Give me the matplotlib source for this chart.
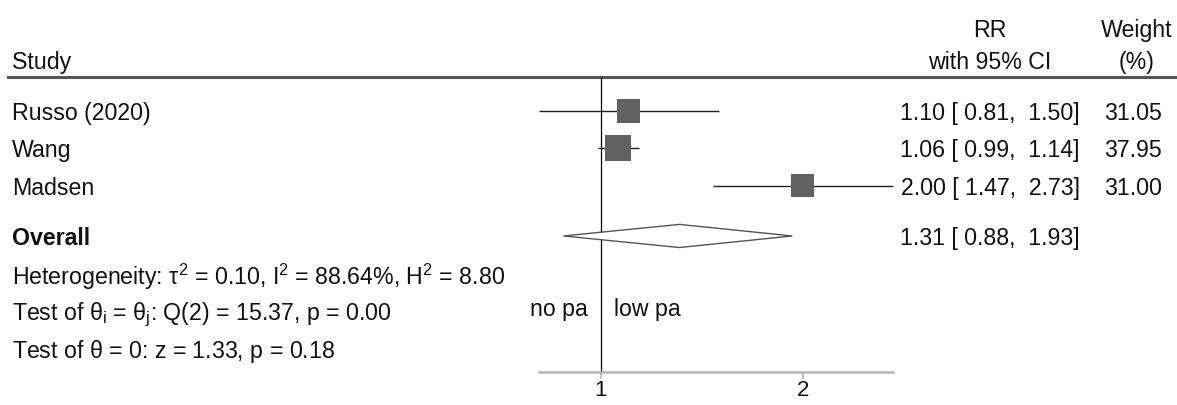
import numpy as np
import matplotlib
matplotlib.use('Agg')
import matplotlib.pyplot as plt
from matplotlib import transforms
from matplotlib.patches import Polygon
from matplotlib.ticker import FixedLocator, NullLocator, FixedFormatter

# Data
# -----------------
studies = ['Russo (2020)', 'Wang', 'Madsen']
rr = [1.10, 1.06, 2.00]
ci_low = [0.81, 0.99, 1.47]
ci_high = [1.50, 1.14, 2.73]
weights = [31.05, 37.95, 31.00]

overall_rr = 1.31
overall_low = 0.88
overall_high = 1.93

stats_lines = [
    r'Heterogeneity: $\mathregular{\tau^2}$ = 0.10, $\mathregular{I^2}$ = 88.64%, $\mathregular{H^2}$ = 8.80',
    r'Test of $\mathregular{\theta_i}$ = $\mathregular{\theta_j}$: Q(2) = 15.37, p = 0.00',
    r'Test of $\mathregular{\theta}$ = 0: z = 1.33, p = 0.18',
]
x_ticks = [1, 2]
x_ticklabels = ['1', '2']
left_label = 'no pa'
right_label = 'low pa'

# Style
# -----------------
plt.rcParams['font.family'] = ['Liberation Sans', 'DejaVu Sans']
plt.rcParams['mathtext.fontset'] = 'custom'
plt.rcParams['mathtext.rm'] = 'Liberation Sans'
plt.rcParams['mathtext.it'] = 'Liberation Sans'
FS = 16.7
TXT = '#111111'
VA = 'center_baseline'

# Row layout (row index, top to bottom)
study_rows = np.arange(len(studies))
overall_row = len(studies) + 0.35
stats_rows = overall_row + 1 + np.arange(len(stats_lines))
header_row = -0.91
axis_row = 7.0
label_row = 5.25

fig = plt.figure(figsize=(11.77, 4.05), dpi=100)
ax = fig.add_axes([0, 0, 1, 1])
ax.set_xscale('log')
ax.set_xlim(0.1273, 7.225)
ax.set_ylim(7.882, -2.976)

for s in ['top', 'left', 'right']:
    ax.spines[s].set_visible(False)
ax.spines['bottom'].set_position(('data', axis_row))
ax.spines['bottom'].set_bounds(min(ci_low), max(ci_high))
ax.spines['bottom'].set_color('#b4b4b4')
ax.spines['bottom'].set_linewidth(1.8)
ax.set_yticks([])
ax.xaxis.set_major_locator(FixedLocator(x_ticks))
ax.xaxis.set_minor_locator(NullLocator())
ax.xaxis.set_major_formatter(FixedFormatter(x_ticklabels))
ax.tick_params(axis='x', colors='#b4b4b4', labelcolor=TXT, labelsize=16,
               length=5, width=1.2, pad=0.5)

# Header line and reference line
ax.axhline(header_row, xmin=8 / 1177, xmax=1, color='#555555', lw=2.2)
ax.vlines(1, header_row, axis_row, color='black', lw=0.9)

# Study CIs and weighted squares
ax.hlines(study_rows, ci_low, ci_high, color='#222222', lw=1.0, zorder=2)
side = 18.5 * np.sqrt(np.array(weights) / max(weights))
ax.scatter(rr, study_rows, marker='s', s=side ** 2, color='#616161',
           linewidths=0, zorder=3)

# Overall diamond
h = 0.31
diamond = Polygon([[overall_low, overall_row], [overall_rr, overall_row - h],
                   [overall_high, overall_row], [overall_rr, overall_row + h]],
                  closed=True, facecolor='white', edgecolor='#555555', lw=1.0, zorder=3)
ax.add_patch(diamond)

# Text columns
tr = transforms.blended_transform_factory(fig.transFigure, ax.transData)
x_left = 12 / 1177
x_ci = 1080 / 1177
x_w = 1162 / 1177

ax.text(x_left, header_row - 0.45, 'Study', transform=tr, fontsize=FS, color=TXT, va=VA)
ax.text(990 / 1177, header_row - 1.32, 'RR', transform=tr, fontsize=FS, color=TXT, va=VA, ha='center')
ax.text(990 / 1177, header_row - 0.45, 'with 95% CI', transform=tr, fontsize=FS, color=TXT, va=VA, ha='center')
ax.text(1137 / 1177, header_row - 1.32, 'Weight', transform=tr, fontsize=FS, color=TXT, va=VA, ha='center')
ax.text(1137 / 1177, header_row - 0.45, '(%)', transform=tr, fontsize=FS, color=TXT, va=VA, ha='center')

for i, name in enumerate(studies):
    ax.text(x_left, study_rows[i], name, transform=tr, fontsize=FS, color=TXT, va=VA)
    ax.text(x_ci, study_rows[i], '{:.2f} [{:5.2f}, {:5.2f}]'.format(rr[i], ci_low[i], ci_high[i]),
            transform=tr, fontsize=FS, color=TXT, va=VA, ha='right')
    ax.text(x_w, study_rows[i], '{:.2f}'.format(weights[i]), transform=tr, fontsize=FS,
            color=TXT, va=VA, ha='right')

ax.text(x_left, overall_row, 'Overall', transform=tr, fontsize=FS, color=TXT,
        va=VA, fontweight='bold')
ax.text(x_ci, overall_row, '{:.2f} [{:5.2f}, {:5.2f}]'.format(overall_rr, overall_low, overall_high),
        transform=tr, fontsize=FS, color=TXT, va=VA, ha='right')

for r, line in zip(stats_rows, stats_lines):
    ax.text(x_left, r, line, transform=tr, fontsize=FS, color=TXT, va=VA)

# Direction labels either side of the null line
ax.text(0.955, label_row, left_label, fontsize=FS, color=TXT, va=VA, ha='right')
ax.text(1.045, label_row, right_label, fontsize=FS, color=TXT, va=VA, ha='left')

fig.savefig('out.png', dpi=100)
